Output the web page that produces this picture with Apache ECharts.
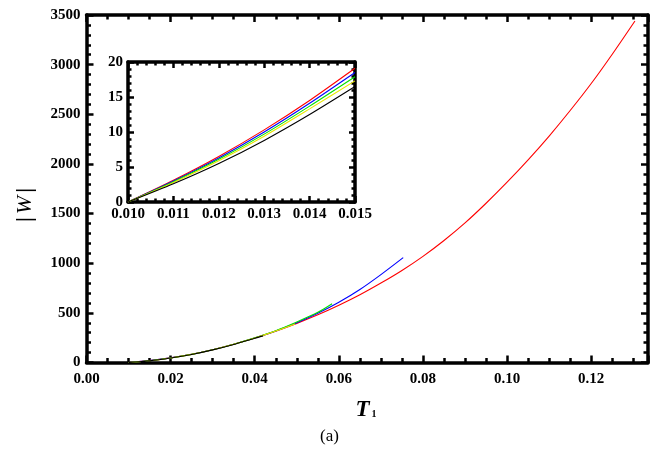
<!DOCTYPE html>
<html><head><meta charset="utf-8">
<script src="https://cdn.jsdelivr.net/npm/echarts@6/dist/echarts.min.js"></script>
<style>html,body{margin:0;padding:0;background:#fff}#c{width:659px;height:461px}</style>
</head><body><div id="c"></div>
<script>
// Main chart data (T1, |W|)
const tRed = [0.010,0.015,0.020,0.025,0.030,0.035,0.040,0.045,0.050,0.055,0.060,0.065,0.070,0.075,0.080,0.085,0.090,0.095,0.100,0.105,0.110,0.115,0.120,0.125,0.1304];
const wRed = [0,19,47,83,129,184,246,316,394,480,576,682,800,927,1069,1229,1406,1604,1816,2041,2281,2538,2810,3105,3440];
const tBlue = [0.010,0.015,0.020,0.025,0.030,0.035,0.040,0.045,0.050,0.055,0.060,0.065,0.070,0.0753];
const wBlue = [0,18.5,46.5,82.5,129,184,247,318,400,495,606,735,885,1056];
const tGreen = [0.010,0.015,0.020,0.025,0.030,0.035,0.040,0.045,0.050,0.055,0.0584];
const wGreen = [0,17.9,46,82,128,184,248,320,408,505,592];
const tYellow = [0.010,0.015,0.020,0.025,0.030,0.035,0.040,0.045,0.0496];
const wYellow = [0,17.3,45.5,81.5,128,183,246,317,388];
const tBlack = [0.010,0.015,0.020,0.025,0.030,0.035,0.040,0.042];
const wBlack = [0,16.5,45,81,127,182,245,268];
// Inset data
const tIn = [0.010,0.011,0.012,0.013,0.014,0.015];
const inRed = [0,3.1,6.5,10.3,14.5,19.1];
const inBlue = [0,3.0,6.3,10.0,14.1,18.5];
const inGreen = [0,2.9,6.1,9.7,13.7,17.9];
const inYellow = [0,2.8,5.9,9.4,13.3,17.3];
const inBlack = [0,2.6,5.5,8.8,12.5,16.5];

const colors = {red:'#ff0000', blue:'#0000ff', green:'#00e000', yellow:'#e8e800', black:'#000000'};
const zip = (a,b)=>a.map((v,i)=>[v,b[i]]);
const FONT = 'Liberation Serif';
const lbl = {fontFamily:FONT, fontWeight:'bold', fontSize:15, color:'#000'};

function ax(o, extra){
  return Object.assign({
    type:'value',
    axisLine:{show:o.line !== false, onZero:false, lineStyle:{color:'#000', width:3.5}},
    axisTick:{show:true, inside:o.inside !== false, length:o.tl||7, lineStyle:{color:'#000', width:2.5}},
    minorTick:{show:true, splitNumber:o.msplit||5, length:o.ml||4.5, lineStyle:{color:'#000', width:2.5}},
    splitLine:{show:false},
    minorSplitLine:{show:false}
  }, extra);
}

const chart = echarts.init(document.getElementById('c'));
const mk = (name, t, w, col, xi, yi) => ({
  type:'line', name, data: zip(t,w), xAxisIndex:xi, yAxisIndex:yi, smooth:0.25,
  showSymbol:false, symbol:'none', lineStyle:{color:col, width:1.1}, itemStyle:{color:col}, z:3
});

const mainX = {min:0, max:0.1335, interval:0.02};
const mainY = {min:0, max:3500, interval:500};
const inX = {min:0.010, max:0.015, interval:0.001};
const inY = {min:0, max:20, interval:5};
const MAIN_H = 461 - 15 - 98.5, MAIN_W = 659 - 86.5 - 11;
const IN_H = 140, IN_W = 227;

chart.setOption({
  animation:false,
  backgroundColor:'#fff',
  grid:[
    {left:86.5, top:15, right:11, bottom:98.5, show:false},
    {left:128, top:62, width:IN_W, height:IN_H, show:true, backgroundColor:'#fff', borderWidth:0}
  ],
  xAxis:[
    ax({msplit:4}, Object.assign({gridIndex:0, position:'bottom',
      axisLabel:Object.assign({margin:9, showMaxLabel:false, formatter:v=>v.toFixed(2)}, lbl)}, mainX)),
    ax({msplit:4}, Object.assign({gridIndex:0, position:'top', axisLabel:{show:false}}, mainX)),
    ax({msplit:4, inside:false, line:false}, Object.assign({gridIndex:0, position:'top', offset:-MAIN_H, axisLabel:{show:false}}, mainX)),
    ax({msplit:5, tl:6, ml:3.5}, Object.assign({gridIndex:1, position:'bottom',
      axisLabel:Object.assign({margin:5, formatter:v=>v.toFixed(3)}, lbl)}, inX)),
    ax({msplit:5, tl:6, ml:3.5}, Object.assign({gridIndex:1, position:'top', axisLabel:{show:false}}, inX)),
    ax({msplit:5, tl:6, ml:3.5, inside:false, line:false}, Object.assign({gridIndex:1, position:'top', offset:-IN_H, axisLabel:{show:false}}, inX))
  ],
  yAxis:[
    ax({msplit:5}, Object.assign({gridIndex:0, position:'left',
      axisLabel:Object.assign({margin:6, formatter:v=>String(v)}, lbl)}, mainY)),
    ax({msplit:5}, Object.assign({gridIndex:0, position:'right', axisLabel:{show:false}}, mainY)),
    ax({msplit:5, inside:false, line:false}, Object.assign({gridIndex:0, position:'right', offset:-MAIN_W, axisLabel:{show:false}}, mainY)),
    ax({msplit:5, tl:6, ml:3.5}, Object.assign({gridIndex:1, position:'left',
      axisLabel:Object.assign({margin:5, formatter:v=>String(v)}, lbl)}, inY)),
    ax({msplit:5, tl:6, ml:3.5}, Object.assign({gridIndex:1, position:'right', axisLabel:{show:false}}, inY)),
    ax({msplit:5, tl:6, ml:3.5, inside:false, line:false}, Object.assign({gridIndex:1, position:'right', offset:-IN_W, axisLabel:{show:false}}, inY))
  ],
  graphic:[
    {type:'text', left:'center', top:428, style:{text:'(a)', font:'17px "Liberation Serif"', fill:'#000'}},
    {type:'text', x:366, y:410, style:{
      text:'{t|T}{s|1}', align:'center', verticalAlign:'middle',
      rich:{t:{fontFamily:FONT, fontStyle:'italic', fontWeight:'bold', fontSize:23, fill:'#000'},
            s:{fontFamily:FONT, fontSize:10, fontWeight:'bold', fill:'#000', padding:[8,0,0,2]}}}},
    {type:'text', x:25, y:205, rotation:Math.PI/2, style:{
      text:'{a||}{w|W}{a||}', align:'center', verticalAlign:'middle',
      rich:{a:{fontFamily:FONT, fontSize:22, fontWeight:'bold', fill:'#000'},
            w:{fontFamily:FONT, fontSize:22, fontStyle:'italic', fill:'#000', padding:[0,3,0,3]}}}}
  ],
  series:[
    mk('red', tRed, wRed, colors.red, 0, 0),
    mk('blue', tBlue, wBlue, colors.blue, 0, 0),
    mk('green', tGreen, wGreen, colors.green, 0, 0),
    mk('yellow', tYellow, wYellow, colors.yellow, 0, 0),
    mk('black', tBlack, wBlack, colors.black, 0, 0),
    mk('red-in', tIn, inRed, colors.red, 3, 3),
    mk('blue-in', tIn, inBlue, colors.blue, 3, 3),
    mk('green-in', tIn, inGreen, colors.green, 3, 3),
    mk('yellow-in', tIn, inYellow, colors.yellow, 3, 3),
    mk('black-in', tIn, inBlack, colors.black, 3, 3)
  ]
});
</script></body></html>
